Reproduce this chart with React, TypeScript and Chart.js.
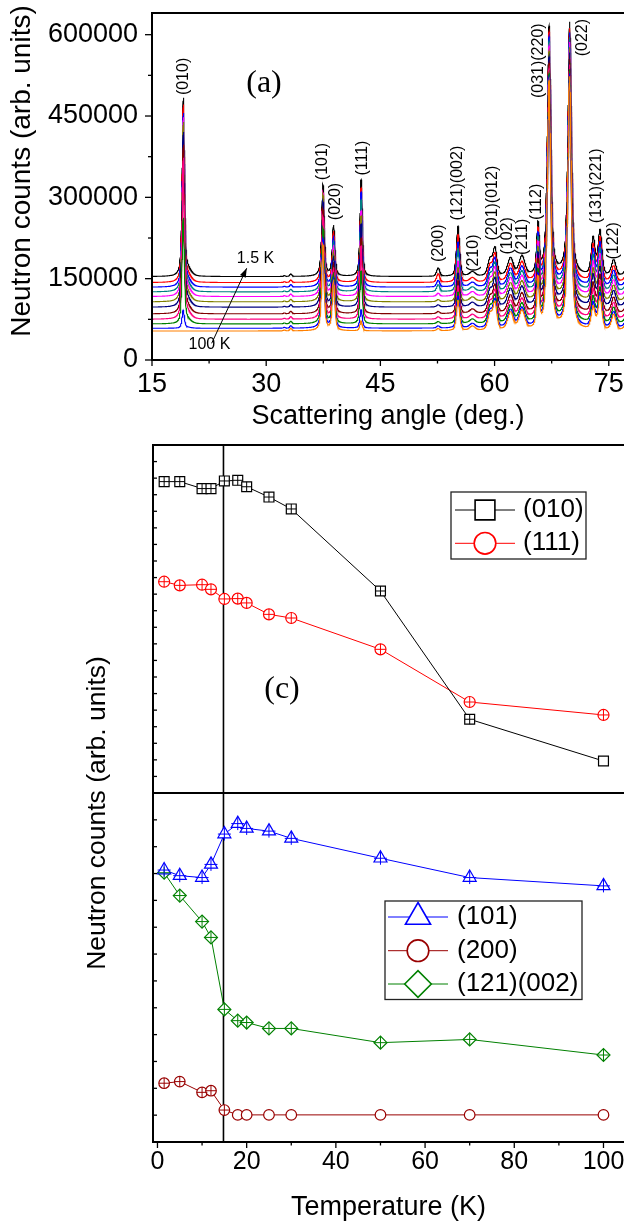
import React, { useEffect, useRef } from 'react';
import { Chart, registerables } from 'chart.js';

Chart.register(...registerables);

// ===================== DATA: panel (a) powder patterns =====================
const temperaturesK = [1.5, 5, 10, 12, 15, 18, 20, 25, 30, 50, 70, 100];
// flat background level of each pattern (counts), read at 15-50 deg
const baselineCounts = [153800, 142700, 134200, 125500, 116900, 107100, 97300, 85000, 75100, 66500, 58500, 53500];
// reflections: centre (deg), FWHM (deg), Lorentz fraction
const peakAngles = [19.1, 19.65, 32.4, 33.25, 37.45, 38.85, 42.47, 52.6, 55.2, 57.1, 59.4, 60.05, 62.1, 63.6, 65.7, 67.15, 69.85, 72.95, 73.85, 75.65, 77.6];
const peakFwhm = [0.36, 1.2, 0.3, 0.35, 0.4, 0.4, 0.38, 0.5, 0.5, 0.9, 0.7, 0.6, 0.9, 0.9, 0.42, 0.55, 0.55, 0.6, 0.6, 0.7, 0.8];
const peakLorentzFraction = [0.5, 0.2, 0.3, 0.3, 0.6, 0.6, 0.5, 0.4, 0.4, 0.3, 0.4, 0.4, 0.4, 0.4, 0.5, 0.65, 0.65, 0.4, 0.4, 0.4, 0.4];
// peak heights above background (counts), one value per temperature
const peakHeights = [
  [323000, 322000, 315000, 315000, 324000, 325000, 317000, 306000, 292000, 192000, 33000, 0],
  [12000, 12000, 11500, 11500, 12000, 12000, 11500, 11000, 10500, 7000, 1500, 0],
  [1500, 1500, 1500, 1500, 1500, 1500, 1500, 1500, 1500, 1500, 1500, 1500],
  [4500, 4500, 4500, 4500, 4500, 4500, 4500, 4500, 4500, 4500, 4500, 4500],
  [169000, 165500, 164300, 172500, 191300, 197800, 194800, 193200, 188700, 176300, 164300, 159100],
  [93000, 93000, 93000, 93000, 93000, 93000, 93000, 93000, 93000, 93000, 93000, 93000],
  [178500, 174100, 174900, 169300, 157800, 158200, 153000, 139200, 134800, 97100, 33700, 18100],
  [15500, 16100, 12200, 12900, 5800, 4000, 4000, 4000, 4000, 4000, 4000, 4000],
  [92300, 87700, 82500, 79300, 64800, 62500, 62200, 61000, 61000, 58100, 58800, 55600],
  [8000, 8000, 8000, 8000, 8000, 8000, 8000, 8000, 8000, 8000, 8000, 8000],
  [30000, 30000, 30000, 30000, 30000, 30000, 30000, 30000, 30000, 30000, 30000, 30000],
  [50000, 50000, 50000, 50000, 50000, 50000, 50000, 50000, 50000, 50000, 50000, 50000],
  [32500, 32500, 32500, 32500, 32500, 32500, 32500, 32500, 32500, 32500, 32500, 32500],
  [35500, 35500, 35500, 35500, 35500, 35500, 35500, 35500, 35500, 35500, 35500, 35500],
  [90000, 90000, 90000, 90000, 90000, 90000, 90000, 90000, 90000, 90000, 90000, 90000],
  [458000, 458000, 458000, 458000, 458000, 458000, 458000, 458000, 458000, 458000, 458000, 458000],
  [466000, 466000, 466000, 466000, 466000, 466000, 466000, 466000, 466000, 466000, 466000, 466000],
  [68000, 66000, 65000, 63000, 60000, 57000, 56000, 53000, 51000, 47000, 44000, 41000],
  [82000, 80000, 79000, 77000, 74000, 72000, 71000, 69000, 67000, 64000, 62000, 60000],
  [29000, 29000, 29000, 29000, 29000, 29000, 29000, 29000, 29000, 29000, 29000, 29000],
  [30000, 30000, 30000, 30000, 30000, 30000, 30000, 30000, 30000, 30000, 30000, 30000],
];
const peakNames = ['(010)', '(101)', '(020)', '(111)', '(200)', '(121)(002)', '(210)', '(201)(012)', '(102)', '(211)', '(112)', '(031)(220)', '(022)', '(131)(221)', '(122)'];
const angleTicks = [15, 30, 45, 60, 75];
const angleMinorTicks = [22.5, 37.5, 52.5, 67.5];
const countTicks = [0, 150000, 300000, 450000, 600000];
const countMinorTicks = [75000, 225000, 375000, 525000];

// ===================== DATA: panel (c) integrated intensities =====================
const int010 = [18.79, 18.79, 18.37, 18.37, 18.83, 18.87, 18.48, 17.86, 17.14, 12.19, 4.45, 1.93];
const int111 = [12.75, 12.53, 12.57, 12.29, 11.71, 11.73, 11.47, 10.78, 10.56, 8.67, 5.49, 4.71];
const int101 = [10.13, 9.92, 9.85, 10.34, 11.47, 11.86, 11.68, 11.58, 11.31, 10.57, 9.85, 9.54];
const int200 = [2.19, 2.25, 1.85, 1.91, 1.19, 1.01, 1.01, 1.01, 1.01, 1.01, 1.01, 1.01];
const int121 = [10.03, 9.18, 8.21, 7.62, 4.94, 4.52, 4.45, 4.23, 4.23, 3.7, 3.82, 3.24];
const transitionK = 14.8;
const tempTicks = [0, 20, 40, 60, 80, 100];
const tempMinorTicks = [10, 30, 50, 70, 90];
const upperPanelTicks = [1, 2, 3, 4, 5, 6, 7, 8, 9, 10, 11, 12, 13, 14, 15, 16, 17, 18, 19, 20];
const lowerPanelTicks = [1, 2, 3, 4, 5, 6, 7, 8, 9, 10, 11, 12];

// ===================== STYLE / LAYOUT =====================
const SANS = "'Liberation Sans', Arial, sans-serif";
const SERIF = "'Liberation Serif', 'Times New Roman', serif";
const curveColors = ['#000000', '#FF0000', '#0000FF', '#008080', '#FF00FF', '#808000', '#000080', '#800000', '#FF0080', '#008000', '#0000FF', '#FF8000'];
const peakLabelAnchors = [
  [19.2, 523000], [37.4, 366100], [39.17, 292300], [42.65, 372400], [52.7, 215400],
  [55.13, 326200], [57.3, 197000], [59.73, 289300], [61.7, 228900], [63.67, 227100],
  [65.57, 291700], [65.83, 552000], [71.55, 594500], [73.45, 321200], [75.62, 219700],
];
const errBarRadius010 = [5, 5, 5, 5, 5, 5, 5, 5, 5, 5, 5, 0];
const errBarRadius111 = [5.5, 5.5, 5.5, 5.5, 5.5, 5.5, 5.5, 5.5, 5.5, 5.5, 5.5, 5.5];
const errBarRadius101 = [6.5, 6.5, 6.5, 6.5, 6.5, 6.5, 6.5, 6.5, 6.5, 6.5, 6.5, 6.5];
const errBarRadius200 = [5.3, 5.3, 5.3, 5.3, 5.3, 0, 0, 0, 0, 0, 0, 0];
const errBarRadius121 = [6, 6, 6, 6, 6, 6, 6, 6, 6, 6, 6, 6];

const ANGLE_MIN = 15;
const ANGLE_MAX = 77;
const ANGLE_STEP = 0.025;

function pattern(i: number) {
  const n = Math.round((ANGLE_MAX - ANGLE_MIN) / ANGLE_STEP) + 1;
  const pts: { x: number; y: number }[] = [];
  for (let k = 0; k < n; k++) {
    const x = ANGLE_MIN + k * ANGLE_STEP;
    let y = baselineCounts[i];
    for (let p = 0; p < peakAngles.length; p++) {
      const h = peakHeights[p][i];
      if (!h) continue;
      const d = (x - peakAngles[p]) / peakFwhm[p];
      const q = 4 * d * d;
      const eta = peakLorentzFraction[p];
      y += h * (eta / (1 + q) + (1 - eta) * Math.exp(-Math.LN2 * q));
    }
    pts.push({ x, y });
  }
  return pts;
}

function drawMarker(ctx: CanvasRenderingContext2D, style: string, x: number, y: number, r: number) {
  ctx.beginPath();
  if (style === 'circle') {
    ctx.arc(x, y, r, 0, Math.PI * 2);
  } else if (style === 'rect') {
    const s = Math.SQRT1_2 * r;
    ctx.rect(x - s, y - s, 2 * s, 2 * s);
  } else if (style === 'triangle') {
    let a = 0;
    ctx.moveTo(x + Math.sin(a) * r, y - Math.cos(a) * r);
    a += (2 * Math.PI) / 3;
    ctx.lineTo(x + Math.sin(a) * r, y - Math.cos(a) * r);
    a += (2 * Math.PI) / 3;
    ctx.lineTo(x + Math.sin(a) * r, y - Math.cos(a) * r);
    ctx.closePath();
  } else if (style === 'rectRot') {
    ctx.moveTo(x - r, y);
    ctx.lineTo(x, y - r);
    ctx.lineTo(x + r, y);
    ctx.lineTo(x, y + r);
    ctx.closePath();
  }
  ctx.fillStyle = '#fff';
  ctx.fill();
  ctx.stroke();
}

function makeDecor(cfg: any) {
  return {
    id: 'decor',
    beforeDatasetsDraw(chart: any) {
      if (cfg.vline == null) return;
      const { ctx, chartArea: a } = chart;
      const x = chart.scales.x.getPixelForValue(cfg.vline);
      ctx.save();
      ctx.strokeStyle = '#000';
      ctx.lineWidth = 1.6;
      ctx.beginPath();
      ctx.moveTo(x, a.top);
      ctx.lineTo(x, a.bottom);
      ctx.stroke();
      ctx.restore();
    },
    afterDraw(chart: any) {
      const { ctx, chartArea: a } = chart;
      ctx.save();
      ctx.strokeStyle = '#000';
      ctx.fillStyle = '#000';
      // frame
      ctx.lineWidth = 2;
      ctx.lineCap = 'square';
      ctx.beginPath();
      if (cfg.frame.includes('top')) { ctx.moveTo(a.left, a.top); ctx.lineTo(a.right, a.top); }
      if (cfg.frame.includes('bottom')) { ctx.moveTo(a.left, a.bottom); ctx.lineTo(a.right, a.bottom); }
      if (cfg.frame.includes('left')) { ctx.moveTo(a.left, a.top); ctx.lineTo(a.left, a.bottom); }
      ctx.stroke();
      // tick marks
      ctx.lineWidth = 1.3;
      ctx.lineCap = 'butt';
      for (const m of cfg.marks || []) {
        const sc = chart.scales[m.scale];
        for (const v of m.values) {
          const p = sc.getPixelForValue(v);
          ctx.beginPath();
          if (sc.isHorizontal()) {
            ctx.moveTo(p, a.bottom);
            ctx.lineTo(p, a.bottom + (m.inward ? -m.len : m.len));
          } else {
            ctx.moveTo(a.left, p);
            ctx.lineTo(a.left + (m.inward ? m.len : -m.len), p);
          }
          ctx.stroke();
        }
      }
      // arrows (data coordinates)
      ctx.lineWidth = 1;
      for (const ar of cfg.arrows || []) {
        const x0 = chart.scales.x.getPixelForValue(ar.from[0]);
        const y0 = chart.scales.y.getPixelForValue(ar.from[1]);
        const x1 = chart.scales.x.getPixelForValue(ar.to[0]);
        const y1 = chart.scales.y.getPixelForValue(ar.to[1]);
        ctx.beginPath();
        ctx.moveTo(x0, y0);
        ctx.lineTo(x1, y1);
        ctx.stroke();
        const ang = Math.atan2(y1 - y0, x1 - x0);
        const L = 9, W = 3.2;
        ctx.beginPath();
        ctx.moveTo(x1, y1);
        ctx.lineTo(x1 - L * Math.cos(ang) + W * Math.sin(ang), y1 - L * Math.sin(ang) - W * Math.cos(ang));
        ctx.lineTo(x1 - L * Math.cos(ang) - W * Math.sin(ang), y1 - L * Math.sin(ang) + W * Math.cos(ang));
        ctx.closePath();
        ctx.fill();
      }
      // texts
      for (const t of cfg.texts || []) {
        let x = t.x, y = t.y;
        if (t.data) {
          x = chart.scales.x.getPixelForValue(t.x);
          y = chart.scales.y.getPixelForValue(t.y);
        }
        ctx.save();
        ctx.translate(x, y);
        if (t.rotate) ctx.rotate(t.rotate);
        ctx.font = t.font;
        ctx.fillStyle = '#000';
        ctx.textAlign = 'center';
        ctx.textBaseline = 'middle';
        ctx.fillText(t.text, 0, 0);
        ctx.restore();
      }
      // legend
      const lg = cfg.legend;
      if (lg) {
        ctx.lineWidth = 1.3;
        ctx.strokeStyle = '#222';
        ctx.strokeRect(lg.box[0], lg.box[1], lg.box[2], lg.box[3]);
        for (const row of lg.rows) {
          const ds = chart.data.datasets[row.ds];
          ctx.strokeStyle = ds.borderColor;
          ctx.lineWidth = 1;
          ctx.beginPath();
          ctx.moveTo(lg.lineX[0], row.y);
          ctx.lineTo(lg.lineX[1], row.y);
          ctx.stroke();
          ctx.lineWidth = 1.6;
          drawMarker(ctx, ds.pointStyle, lg.markerX, row.y, row.r);
          ctx.fillStyle = '#000';
          ctx.font = lg.font;
          ctx.textAlign = 'left';
          ctx.textBaseline = 'middle';
          ctx.fillText(ds.label, lg.textX, row.y);
        }
      }
      ctx.restore();
    },
  };
}

function markerSeries(label: string, values: number[], color: string, style: string, r: number) {
  return {
    label,
    data: temperaturesK.map((t, i) => ({ x: t, y: values[i] })),
    borderColor: color,
    borderWidth: 1,
    showLine: true,
    tension: 0,
    pointStyle: style,
    pointRadius: r,
    pointBorderWidth: 1.2,
    pointBorderColor: color,
    pointBackgroundColor: '#fff',
    order: 2,
  };
}

function errorMarks(values: number[], color: string, radii: number[]) {
  return {
    label: '',
    data: temperaturesK.map((t, i) => ({ x: t, y: values[i] })),
    showLine: false,
    pointStyle: 'cross',
    pointRadius: radii,
    pointBorderWidth: 1,
    pointBorderColor: color,
    order: 1,
  };
}

const hiddenAxis = { display: false };
const tempAxisRange = { min: -1, max: 104.6 };
const noSidePadding = (s: any) => { s.paddingLeft = 0; s.paddingRight = 0; };

export default function App() {
  const refA = useRef<HTMLCanvasElement>(null);
  const refB = useRef<HTMLCanvasElement>(null);
  const refC = useRef<HTMLCanvasElement>(null);

  useEffect(() => {
    // ---------- panel (a) ----------
    const peakTexts = peakNames.map((name, i) => ({
      text: name, x: peakLabelAnchors[i][0], y: peakLabelAnchors[i][1], data: true,
      font: `16px ${SANS}`, rotate: -Math.PI / 2,
    }));
    const chartA = new Chart(refA.current as HTMLCanvasElement, {
      type: 'line',
      data: {
        datasets: temperaturesK.map((t, i) => ({
          label: `${t} K`,
          data: pattern(i),
          borderColor: curveColors[i],
          borderWidth: 1.1,
          pointRadius: 0,
          fill: false,
          tension: 0,
          order: temperaturesK.length - 1 - i,
        })),
      } as any,
      options: {
        animation: false,
        responsive: false,
        devicePixelRatio: 1,
        parsing: false,
        normalized: true,
        layout: { autoPadding: false, padding: { top: 13, right: 0, bottom: 0, left: 0 } },
        plugins: { legend: { display: false }, tooltip: { enabled: false } },
        scales: {
          x: {
            type: 'linear', min: ANGLE_MIN, max: ANGLE_MAX,
            grid: { display: false, drawTicks: false }, border: { display: false },
            afterBuildTicks: (s: any) => { s.ticks = angleTicks.map((v) => ({ value: v })); },
            afterFit: (s: any) => { s.height = 73; noSidePadding(s); },
            ticks: { padding: 8, autoSkip: false, maxRotation: 0, color: '#000', font: { family: SANS, size: 27 }, callback: (v: any) => String(v) },
            title: { display: true, text: 'Scattering angle (deg.)', color: '#000', font: { family: SANS, size: 27 }, padding: { top: 0, bottom: 0 } },
          },
          y: {
            type: 'linear', min: 0, max: 640000,
            grid: { display: false, drawTicks: false }, border: { display: false },
            afterBuildTicks: (s: any) => { s.ticks = countTicks.map((v) => ({ value: v })); },
            afterFit: (s: any) => { s.width = 152; s.paddingTop = 0; s.paddingBottom = 0; },
            ticks: { padding: 14, autoSkip: false, color: '#000', font: { family: SANS, size: 27 }, callback: (v: any) => String(v) },
          },
        },
      } as any,
      plugins: [makeDecor({
        frame: ['top', 'left', 'bottom'],
        marks: [
          { scale: 'x', values: angleTicks, len: 6 },
          { scale: 'x', values: angleMinorTicks, len: 3.5 },
          { scale: 'y', values: countTicks, len: 7 },
          { scale: 'y', values: countMinorTicks, len: 4 },
        ],
        arrows: [{ from: [22.84, 30830], to: [27.44, 169290] }],
        texts: [
          { text: 'Neutron counts (arb. units)', x: 22, y: 171, font: `28px ${SANS}`, rotate: -Math.PI / 2 },
          { text: '(a)', x: 264, y: 84, font: `32px ${SERIF}` },
          { text: '1.5 K', x: 28.6, y: 186500, data: true, font: `16px ${SANS}` },
          { text: '100 K', x: 22.55, y: 27700, data: true, font: `16px ${SANS}` },
          ...peakTexts,
        ],
      })] as any,
    });

    // ---------- panel (c), upper part ----------
    const chartB = new Chart(refB.current as HTMLCanvasElement, {
      type: 'line',
      data: {
        datasets: [
          markerSeries('(010)', int010, '#000000', 'rect', 7),
          markerSeries('(111)', int111, '#FF0000', 'circle', 5.5),
          errorMarks(int010, '#000000', errBarRadius010),
          errorMarks(int111, '#FF0000', errBarRadius111),
        ],
      } as any,
      options: {
        animation: false,
        responsive: false,
        devicePixelRatio: 1,
        layout: { autoPadding: false, padding: { top: 5, right: 0, bottom: 7, left: 153 } },
        plugins: { legend: { display: false }, tooltip: { enabled: false } },
        scales: {
          x: { type: 'linear', ...tempAxisRange, ...hiddenAxis },
          y: { type: 'linear', min: 0, max: 21, ...hiddenAxis },
        },
      } as any,
      plugins: [makeDecor({
        frame: ['top', 'left', 'bottom'],
        vline: transitionK,
        marks: [{ scale: 'y', values: upperPanelTicks, len: 4, inward: true }],
        texts: [{ text: '(c)', x: 282, y: 249.5, font: `32px ${SERIF}` }],
        legend: {
          box: [451, 52, 135, 67], lineX: [455, 515], markerX: 485, textX: 523, font: `26px ${SANS}`,
          rows: [{ ds: 0, y: 70, r: 14 }, { ds: 1, y: 103.3, r: 10.8 }],
        },
      })] as any,
    });

    // ---------- panel (c), lower part ----------
    const chartC = new Chart(refC.current as HTMLCanvasElement, {
      type: 'line',
      data: {
        datasets: [
          markerSeries('(101)', int101, '#0000FF', 'triangle', 7.5),
          markerSeries('(200)', int200, '#990000', 'circle', 5.3),
          markerSeries('(121)(002)', int121, '#008000', 'rectRot', 6.5),
          errorMarks(int101, '#0000FF', errBarRadius101),
          errorMarks(int200, '#990000', errBarRadius200),
          errorMarks(int121, '#008000', errBarRadius121),
        ],
      } as any,
      options: {
        animation: false,
        responsive: false,
        devicePixelRatio: 1,
        layout: { autoPadding: false, padding: { top: 353, right: 0, bottom: 0, left: 153 } },
        plugins: { legend: { display: false }, tooltip: { enabled: false } },
        scales: {
          x: {
            type: 'linear', ...tempAxisRange,
            grid: { display: false, drawTicks: false }, border: { display: false },
            afterBuildTicks: (s: any) => { s.ticks = tempTicks.map((v) => ({ value: v })); },
            afterFit: (s: any) => { s.height = 83; noSidePadding(s); },
            ticks: { padding: 5, autoSkip: false, maxRotation: 0, color: '#000', font: { family: SANS, size: 25 }, callback: (v: any) => String(v) },
            title: { display: true, text: 'Temperature (K)', color: '#000', font: { family: SANS, size: 27 }, padding: { top: 0, bottom: 1 } },
          },
          y: { type: 'linear', min: 0, max: 13, ...hiddenAxis },
        },
      } as any,
      plugins: [makeDecor({
        frame: ['top', 'left', 'bottom'],
        vline: transitionK,
        marks: [
          { scale: 'y', values: lowerPanelTicks, len: 4, inward: true },
          { scale: 'x', values: tempTicks, len: 6 },
          { scale: 'x', values: tempMinorTicks, len: 3.5 },
        ],
        texts: [{ text: 'Neutron counts (arb. units)', x: 98, y: 373, font: `26.5px ${SANS}`, rotate: -Math.PI / 2 }],
        legend: {
          box: [385, 461, 197, 98.5], lineX: [388, 448], markerX: 418, textX: 457, font: `26px ${SANS}`,
          rows: [{ ds: 0, y: 477, r: 14.5 }, { ds: 1, y: 510.7, r: 10.8 }, { ds: 2, y: 544, r: 13.3 }],
        },
      })] as any,
    });

    return () => {
      chartA.destroy();
      chartB.destroy();
      chartC.destroy();
    };
  }, []);

  const abs = (top: number, h: number) => ({ position: 'absolute' as const, left: 0, top, width: 624, height: h });
  return (
    <div style={{ position: 'absolute', left: 0, top: 0, width: 624, height: 1225, background: '#fff', overflow: 'hidden' }}>
      <canvas ref={refA} width={624} height={433} style={abs(0, 433)} />
      <canvas ref={refC} width={624} height={785} style={abs(440, 785)} />
      <canvas ref={refB} width={624} height={360} style={abs(440, 360)} />
    </div>
  );
}
